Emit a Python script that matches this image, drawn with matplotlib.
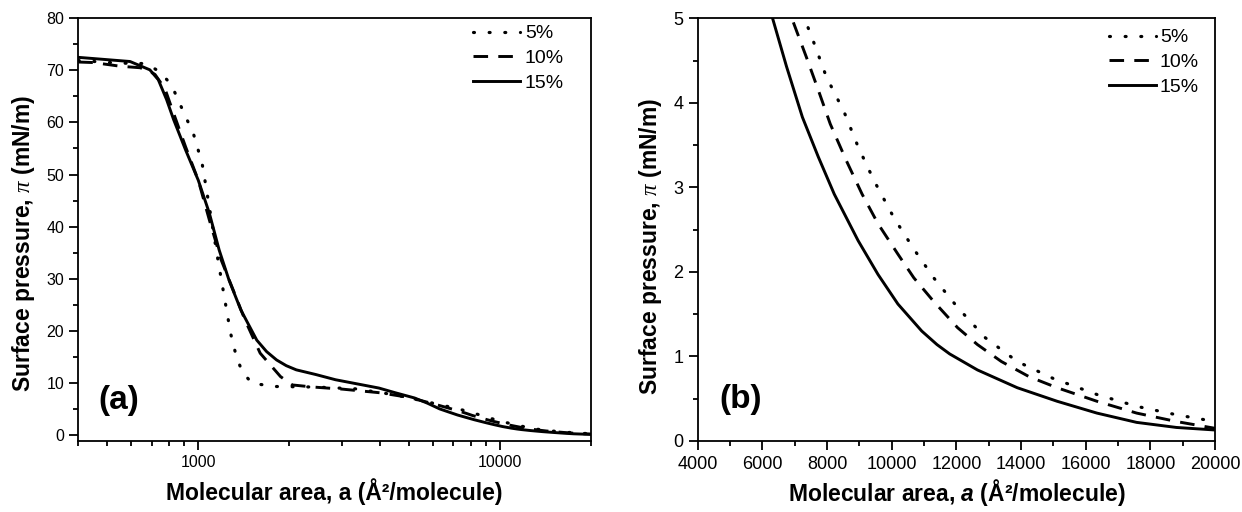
import matplotlib
matplotlib.use("Agg")
import numpy as np
import matplotlib.pyplot as plt
from matplotlib.ticker import MultipleLocator, LogLocator, NullFormatter, FuncFormatter

# isotherm data (area in A^2/molecule, pressure in mN/m)
area_5 = [400, 544, 671, 747, 815, 908, 963, 1030, 1088, 1152, 1225, 1280, 1338, 1400,
          1508, 1816, 2456, 3320, 4490, 5500, 6100, 7298, 7545, 7975, 8529, 8960, 9452,
          10068, 10683, 11298, 12037, 12898, 13883, 14991, 16345, 17575, 18806, 20000]
pres_5 = [71.9, 71.4, 71.3, 69.7, 67.2, 61.1, 57.9, 52.1, 43.8, 34.9, 25.9, 19.5, 15.0, 12.1,
          9.9, 9.3, 9.2, 8.85, 7.7, 6.6, 6.0, 5.0, 4.76, 4.31, 3.89, 3.48, 3.08,
          2.64, 2.27, 1.93, 1.58, 1.22, 0.94, 0.74, 0.55, 0.41, 0.31, 0.23]

area_10 = [400, 449, 550, 642, 691, 719, 775, 829, 908, 1000, 1088, 1191, 1306, 1428,
           1604, 1874, 2050, 2400, 3000, 4000, 5000, 6000, 6929, 7360, 7729, 8098, 8591,
           9083, 9575, 10191, 10683, 11298, 12037, 12652, 13391, 14252, 15114, 16345,
           17575, 18806, 20000]
pres_10 = [71.6, 71.5, 70.8, 70.5, 69.8, 69.2, 66.5, 61.7, 55.3, 48.9, 41.3, 33.6, 27.8, 22.1,
           15.7, 11.2, 9.6, 9.2, 8.8, 8.1, 7.2, 6.0, 4.98, 4.54, 4.15, 3.75, 3.32,
           2.92, 2.57, 2.21, 1.93, 1.65, 1.34, 1.14, 0.94, 0.76, 0.63, 0.47,
           0.33, 0.23, 0.15]

area_15 = [400, 594, 691, 737, 785, 829, 908, 1000, 1088, 1173, 1265, 1384, 1563, 1685,
           1818, 1958, 2113, 2453, 2851, 3974, 4500, 5212, 5750, 6314, 6745, 7237, 7729,
           8222, 8960, 9575, 10191, 10929, 11400, 11791, 12652, 13883, 15114, 16345,
           17575, 18806, 20000]
pres_15 = [72.5, 71.7, 70.1, 68.2, 64.4, 60.5, 54.7, 48.9, 42.6, 35.5, 29.7, 24.0, 18.2, 16.0,
           14.4, 13.3, 12.5, 11.6, 10.6, 9.0, 8.1, 7.1, 6.1, 5.0, 4.43, 3.83, 3.36,
           2.92, 2.37, 1.97, 1.62, 1.30, 1.14, 1.03, 0.84, 0.63, 0.47, 0.33,
           0.22, 0.16, 0.13]

labels = ["5%", "10%", "15%"]

plt.rcParams["font.family"] = "Liberation Sans"
plt.rcParams["mathtext.fontset"] = "custom"
plt.rcParams["mathtext.it"] = "Liberation Serif:italic"
plt.rcParams["mathtext.rm"] = "Liberation Sans"
plt.rcParams["mathtext.bf"] = "Liberation Sans:bold"
plt.rcParams["mathtext.bfit"] = "Liberation Sans:italic:bold"

series = [(area_5, pres_5), (area_10, pres_10), (area_15, pres_15)]
styles = [dict(ls=(0, (0.3, 4.6)), lw=2.3, dash_capstyle="round"),
          dict(ls=(0, (5, 3.5)), lw=2.1),
          dict(ls="-", lw=2.1)]

fig = plt.figure(figsize=(12.42, 5.12), dpi=100)
ax1 = fig.add_axes([0.0630, 0.1393, 0.4126, 0.8250])
ax2 = fig.add_axes([0.5618, 0.1387, 0.4165, 0.8256])

for ax in (ax1, ax2):
    for (x, y), lab, st in zip(series, labels, styles):
        ax.plot(x, y, color="k", label=lab, **st)
    for sp in ax.spines.values():
        sp.set_linewidth(1.3)
    ax.tick_params(which="both", direction="out", top=False, right=False, width=1.3)
    ax.tick_params(which="major", length=6.5)
    ax.tick_params(which="minor", length=3.4)

# panel (a): log x
ax1.set_xscale("log")
ax1.set_xlim(400, 20000)
ax1.set_ylim(-1.1, 80)
ax1.xaxis.set_major_locator(LogLocator(base=10, subs=[1.0]))
ax1.xaxis.set_minor_locator(LogLocator(base=10, subs=np.arange(2, 10)))
ax1.xaxis.set_major_formatter(FuncFormatter(lambda v, p: "%d" % v))
ax1.xaxis.set_minor_formatter(NullFormatter())
ax1.yaxis.set_major_locator(MultipleLocator(10))
ax1.yaxis.set_minor_locator(MultipleLocator(5))
ax1.tick_params(which="major", labelsize=11.5, pad=3.5)

# panel (b): linear zoom
ax2.set_xlim(4000, 20000)
ax2.set_ylim(0, 5)
ax2.xaxis.set_major_locator(MultipleLocator(2000))
ax2.xaxis.set_minor_locator(MultipleLocator(1000))
ax2.yaxis.set_major_locator(MultipleLocator(1))
ax2.yaxis.set_minor_locator(MultipleLocator(0.5))
ax2.tick_params(which="major", labelsize=13, pad=4)

ylab = "Surface pressure, $\\pi$ (mN/m)"
ax1.set_ylabel(ylab, fontsize=16.5, fontweight="bold", va="center")
ax2.set_ylabel(ylab, fontsize=16.5, fontweight="bold", va="center")
ax1.yaxis.set_label_coords(-0.106, 0.466)
ax2.yaxis.set_label_coords(-0.092, 0.461)

ax1.set_xlabel("Molecular area, a (Å²/molecule)", fontsize=16.5, fontweight="bold", va="center")
ax2.set_xlabel("Molecular area, $\\mathbfit{a}$ (Å²/molecule)", fontsize=16.5,
               fontweight="bold", va="center")
ax1.xaxis.set_label_coords(0.5, -0.121)
ax2.xaxis.set_label_coords(0.5, -0.121)

ax1.text(0.040, 0.075, "(a)", transform=ax1.transAxes, fontsize=24, fontweight="bold",
         va="baseline")
ax2.text(0.041, 0.078, "(b)", transform=ax2.transAxes, fontsize=24, fontweight="bold",
         va="baseline")

ax1.legend(loc="upper left", bbox_to_anchor=(0.770, 0.9846), frameon=False, fontsize=14,
           handlelength=2.42, handletextpad=0.26, labelspacing=0.37, borderpad=0,
           borderaxespad=0)
ax2.legend(loc="upper left", bbox_to_anchor=(0.795, 0.975), frameon=False, fontsize=14,
           handlelength=2.42, handletextpad=0.2, labelspacing=0.37, borderpad=0,
           borderaxespad=0)

fig.savefig("out.png", dpi=100)
